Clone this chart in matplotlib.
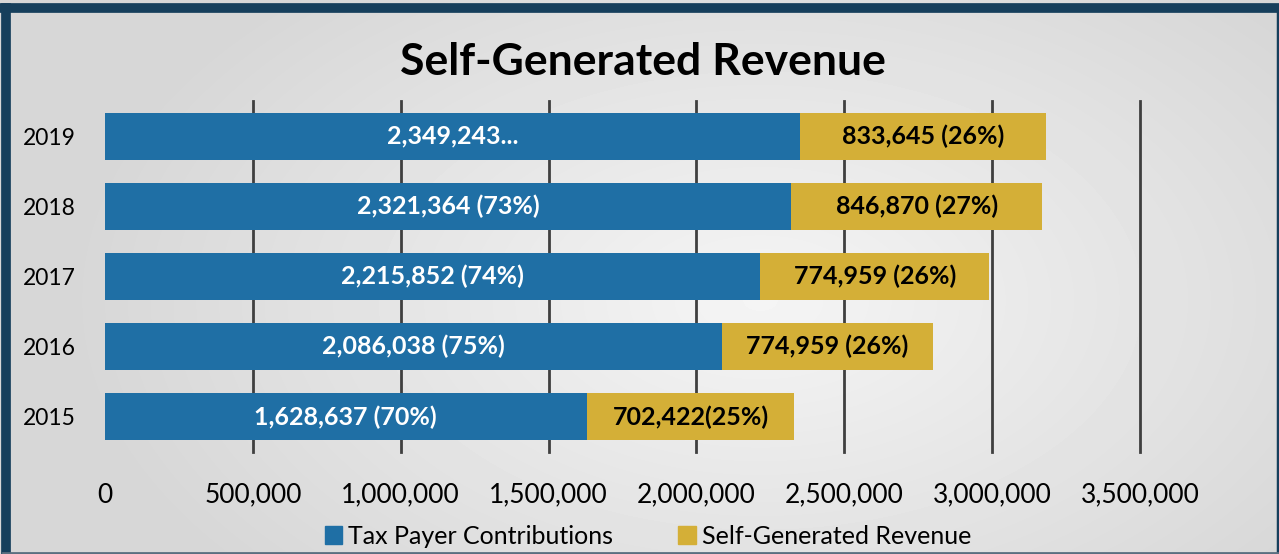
import matplotlib.pyplot as plt
import numpy as np
from matplotlib.patches import Patch
from matplotlib.lines import Line2D

years = ['2015', '2016', '2017', '2018', '2019']
tax_payer = [1628637, 2086038, 2215852, 2321364, 2349243]
self_generated = [702422, 714000, 774959, 846870, 833645]
tax_labels = ['1,628,637 (70%)', '2,086,038 (75%)', '2,215,852 (74%)',
              '2,321,364 (73%)', '2,349,243...']
self_labels = ['702,422(25%)', '774,959 (26%)', '774,959 (26%)',
               '846,870 (27%)', '833,645 (26%)']
xticks = [0, 500000, 1000000, 1500000, 2000000, 2500000, 3000000, 3500000]

blue = '#1f6fa5'
gold = '#d4af37'
plt.rcParams['font.family'] = ['Lato', 'DejaVu Sans']

W, H = 1279, 554
fig = plt.figure(figsize=(W / 100, H / 100), dpi=100)

# radial grey background
bg = fig.add_axes([0, 0, 1, 1], zorder=-5)
yy, xx = np.mgrid[0:H, 0:W]
r = np.sqrt(((xx - 760) / 700.0) ** 2 + ((yy - 300) / 420.0) ** 2)
shade = 0.96 - 0.12 * np.clip(r, 0, 1)
bg.imshow(shade, cmap='gray', vmin=0, vmax=1, aspect='auto', extent=[0, W, H, 0])
bg.set_xlim(0, W)
bg.set_ylim(H, 0)
bg.axis('off')
# frame
bg.add_line(Line2D([6, 6], [8, H], color='#163f5c', lw=7))
bg.add_line(Line2D([3, W - 2], [8, 8], color='#163f5c', lw=7))
bg.add_line(Line2D([W - 1.5, W - 1.5], [8, H], color='#163f5c', lw=2.5))
bg.add_line(Line2D([3, W], [H - 1.5, H - 1.5], color='#5a6f80', lw=2))

ax = fig.add_axes([105 / W, 1 - 452 / H, (1140 - 105) / W, (452 - 101) / H])
ax.set_facecolor('none')
y = np.arange(len(years))
h = 0.67
ax.barh(y, tax_payer, height=h, color=blue, zorder=3)
ax.barh(y, self_generated, left=tax_payer, height=h, color=gold, zorder=3)
for t in xticks[1:]:
    ax.axvline(t, color='#3f3f3f', lw=2, zorder=1, clip_on=False)

for i in range(len(years)):
    ax.text(tax_payer[i] / 2, y[i], tax_labels[i], ha='center', va='center',
            color='white', fontsize=18, fontweight='bold', zorder=4)
    ax.text(tax_payer[i] + self_generated[i] / 2, y[i], self_labels[i],
            ha='center', va='center', color='black', fontsize=18,
            fontweight='bold', zorder=4)

ax.set_xlim(0, 3500000)
ax.set_ylim(-0.5, len(years) - 0.5)
ax.set_xticks(xticks)
ax.set_xticklabels(['{:,}'.format(t) for t in xticks])
ax.set_yticks(y)
ax.set_yticklabels(years)
ax.tick_params(axis='x', length=0, pad=22, labelsize=19)
ax.tick_params(axis='y', length=0, pad=21, labelsize=16.5)
for s in ax.spines.values():
    s.set_visible(False)

fig.text(643 / W, 1 - 62 / H, 'Self-Generated Revenue', ha='center', va='center',
         fontsize=32, fontweight='bold')

handles = [Patch(color=blue, label='Tax Payer Contributions'),
           Patch(color=gold, label='Self-Generated Revenue')]
fig.legend(handles=handles, loc='center', bbox_to_anchor=(648 / W, 1 - 536 / H),
           ncol=2, frameon=False, fontsize=18, handlelength=0.7, handleheight=0.7,
           handletextpad=0.25, columnspacing=2.6)

fig.savefig('out.png', dpi=100)
